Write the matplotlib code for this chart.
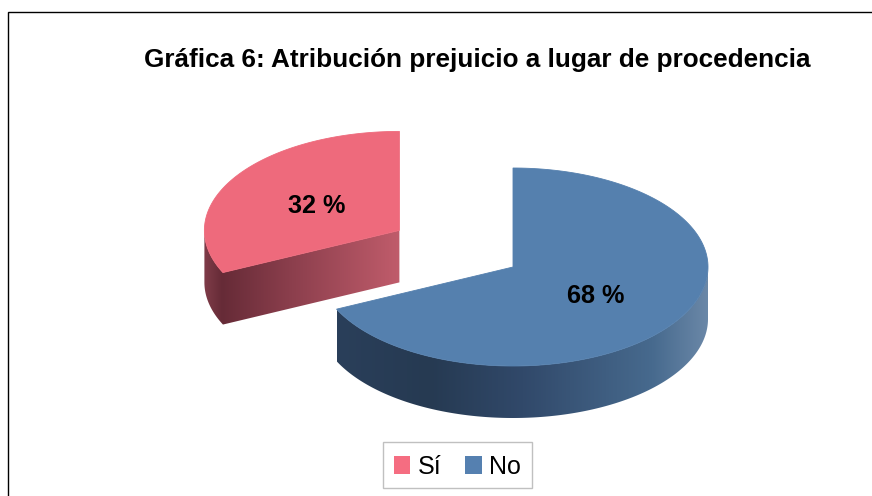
import numpy as np
import matplotlib
matplotlib.use("Agg")
import matplotlib.pyplot as plt
from matplotlib.colors import LinearSegmentedColormap
from matplotlib.patches import Patch, Polygon

plt.rcParams["font.family"] = ["Liberation Sans", "DejaVu Sans"]

title = "Gráfica 6: Atribución prejuicio a lugar de procedencia"
labels = ["Sí", "No"]
values = [32, 68]
explode = [0.69, 0]
top_colors = ["#ee6a7c", "#5580ae"]
legend_colors = ["#f56d81", "#5580b0"]
side_stops = [
    [(0.0, "#7f3c49"), (0.09, "#662b37"), (0.45, "#8c3f4d"), (1.0, "#c05c6b")],
    [(0.0, "#2a3f5a"), (0.25, "#263a52"), (0.5, "#31496a"), (0.85, "#476a8e"), (1.0, "#6b88a8")],
]

cx, cy = 513, 267
rx, ry = 195, 99
depth = 52

fig = plt.figure(figsize=(8.72, 4.96), dpi=100)
ax = fig.add_axes([0, 0, 1, 1])
ax.set_xlim(0, 872)
ax.set_ylim(496, 0)
ax.axis("off")


def rim(x0, y0, a0, a1):
    # angles clockwise from 12 o'clock
    t = np.radians(np.linspace(a0, a1, 200))
    return np.column_stack([x0 + rx * np.sin(t), y0 - ry * np.cos(t)])


fractions = np.array(values) / sum(values)
start = 360 * (1 - fractions[0])
for i in range(len(values)):
    end = start + 360 * fractions[i]
    mid = (start + end) / 2
    x0 = cx + explode[i] * rx * np.sin(np.radians(mid))
    y0 = cy - explode[i] * ry * np.cos(np.radians(mid))

    # only the rim between 3 and 9 o'clock faces the viewer
    front = rim(x0, y0, max(start, 90), min(end, 270))
    if 90 < start < 270:
        front = np.vstack([[[x0, y0]], front])
    wall = np.vstack([front, front[::-1] + [0, depth]])
    clip = Polygon(wall, closed=True, transform=ax.transData, facecolor="none", edgecolor="none")
    ax.add_patch(clip)
    cmap = LinearSegmentedColormap.from_list("side%d" % i, side_stops[i])
    grad = ax.imshow(np.linspace(0, 1, 256).reshape(1, -1), cmap=cmap, aspect="auto",
                     extent=[wall[:, 0].min(), wall[:, 0].max(), wall[:, 1].max(), wall[:, 1].min()],
                     zorder=2 + i)
    grad.set_clip_path(clip)

    top = np.vstack([[[x0, y0]], rim(x0, y0, start, end)])
    ax.add_patch(Polygon(top, closed=True, facecolor=top_colors[i], edgecolor=top_colors[i],
                         linewidth=0.6, zorder=2.5 + i))
    ax.text(x0 + 0.5 * rx * np.sin(np.radians(mid)), y0 - 0.5 * ry * np.cos(np.radians(mid)) + 2,
            "%d %%" % values[i], fontsize=18.2, fontweight="bold", ha="center", va="center",
            color="black", zorder=6)
    start = end % 360

ax.set_xlim(0, 872)
ax.set_ylim(496, 0)

# chart frame: only left and top edges show in the crop
ax.plot([8, 8, 872], [496, 12, 12], color="black", linewidth=1.0, solid_joinstyle="miter")

ax.text(477, 60, title, fontsize=18.85, fontweight="bold", ha="center", va="center", color="black")

handles = [Patch(facecolor=c, edgecolor="none") for c in legend_colors]
leg = ax.legend(handles, labels, loc="center", bbox_to_anchor=(457.5, 464.5), bbox_transform=ax.transData,
                ncol=2, fontsize=18, frameon=True, fancybox=False, framealpha=1, edgecolor="#c0c0c0",
                handlelength=0.66, handleheight=0.7, handletextpad=0.3, columnspacing=0.95, borderpad=0.44)
for t in leg.get_texts():
    t.set_y(-2)
for p in leg.get_patches():
    p.set_y(p.get_y() - 1.5)

fig.savefig("out.png", dpi=100)
